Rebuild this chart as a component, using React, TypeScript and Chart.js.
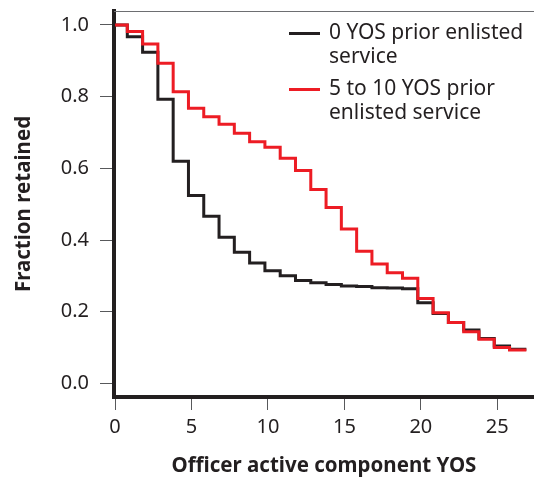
import React, { useEffect, useRef } from "react";
import { Chart, registerables } from "chart.js";

Chart.register(...registerables);

// Step positions (officer active component YOS) where the retention level changes
const stepX = [0, 0.8, 1.8, 2.8, 3.8, 4.8, 5.8, 6.8, 7.8, 8.8, 9.8, 10.8, 11.8, 12.8, 13.8, 14.8, 15.8, 16.8, 17.8, 18.8, 19.8, 20.8, 21.8, 22.8, 23.8, 24.8, 25.8, 26.9];

// 0 YOS prior enlisted service
const zeroPrior = [1.0, 0.967, 0.924, 0.793, 0.62, 0.524, 0.466, 0.408, 0.366, 0.336, 0.314, 0.3, 0.287, 0.281, 0.276, 0.272, 0.27, 0.267, 0.266, 0.264, 0.225, 0.195, 0.17, 0.149, 0.125, 0.104, 0.095, 0.095];

// 5 to 10 YOS prior enlisted service
const fiveToTenPrior = [1.0, 0.982, 0.947, 0.893, 0.814, 0.768, 0.744, 0.723, 0.698, 0.674, 0.659, 0.628, 0.594, 0.541, 0.491, 0.431, 0.369, 0.333, 0.309, 0.293, 0.237, 0.197, 0.17, 0.144, 0.123, 0.1, 0.093, 0.093];

const seriesLabels = [
  ["0 YOS prior enlisted", "service"],
  ["5 to 10 YOS prior", "enlisted service"],
];
const seriesColors = ["#231f20", "#ed1c24"];

const xTickValues = [0, 5, 10, 15, 20, 25];
const yTickValues = [0, 0.2, 0.4, 0.6, 0.8, 1.0];

const xTitle = "Officer active component YOS";
const yTitle = "Fraction retained";

const FONT = "'Noto Sans', 'Open Sans', sans-serif";

export default function App() {
  const ref = useRef<HTMLCanvasElement | null>(null);

  useEffect(() => {
    document.body.style.margin = "0";
    const canvas = ref.current;
    if (!canvas) return;

    const toPoints = (vals: number[]) => stepX.map((x, i) => ({ x, y: vals[i] }));

    const frameAndLegend = {
      id: "frameAndLegend",
      afterDraw(chart: any) {
        const ctx = chart.ctx;
        const area = chart.chartArea;
        ctx.save();
        // thin top frame line
        ctx.strokeStyle = "#6d6e71";
        ctx.lineWidth = 1;
        ctx.beginPath();
        ctx.moveTo(area.left, area.top + 0.5);
        ctx.lineTo(area.right, area.top + 0.5);
        ctx.stroke();

        // legend
        const lineX0 = 289;
        const lineX1 = 320;
        const textX = 329;
        const firstY = 33.5;
        const lineGap = 23.5;
        const itemGap = 56;
        ctx.font = `21px ${FONT}`;
        ctx.textBaseline = "middle";
        ctx.textAlign = "left";
        seriesLabels.forEach((lines, i) => {
          const y = firstY + i * itemGap;
          ctx.strokeStyle = seriesColors[i];
          ctx.lineWidth = 3;
          ctx.beginPath();
          ctx.moveTo(lineX0, y);
          ctx.lineTo(lineX1, y);
          ctx.stroke();
          ctx.fillStyle = "#231f20";
          lines.forEach((t, j) => {
            ctx.fillText(t, textX, y + j * lineGap);
          });
        });
        ctx.restore();
      },
    };

    const chart = new Chart(canvas, {
      type: "line",
      data: {
        datasets: [
          {
            label: seriesLabels[0].join(" "),
            data: toPoints(zeroPrior),
            borderColor: seriesColors[0],
            backgroundColor: seriesColors[0],
            borderWidth: 3,
            stepped: "before",
            pointRadius: 0,
            fill: false,
            order: 1,
          },
          {
            label: seriesLabels[1].join(" "),
            data: toPoints(fiveToTenPrior),
            borderColor: seriesColors[1],
            backgroundColor: seriesColors[1],
            borderWidth: 3,
            stepped: "before",
            pointRadius: 0,
            fill: false,
            order: 0,
          },
        ],
      },
      options: {
        animation: false,
        responsive: false,
        layout: { padding: { top: 11, right: 0, left: 0, bottom: 0 } },
        plugins: {
          legend: { display: false },
          tooltip: { enabled: false },
        },
        scales: {
          x: {
            type: "linear",
            min: -0.07,
            max: 27.4,
            afterBuildTicks: (scale: any) => {
              scale.ticks = xTickValues.map((v) => ({ value: v }));
            },
            afterFit: (scale: any) => {
              scale.height = 81;
              scale.paddingLeft = 0;
              scale.paddingRight = 0;
              scale.paddingTop = 0;
              scale.paddingBottom = 0;
            },
            grid: {
              drawOnChartArea: false,
              drawTicks: true,
              tickLength: 13,
              color: "#58595b",
              lineWidth: 1,
            },
            border: { display: true, color: "#231f20", width: 4 },
            ticks: {
              color: "#231f20",
              font: { family: FONT, size: 20 },
              padding: 5,
              maxRotation: 0,
              callback: (v: any) => String(v),
            },
            title: {
              display: true,
              text: xTitle,
              color: "#231f20",
              font: { family: FONT, size: 20.5, weight: "bold" },
              padding: { top: 0, bottom: 0 },
            },
          },
          y: {
            type: "linear",
            min: -0.038,
            max: 1.039,
            afterBuildTicks: (scale: any) => {
              scale.ticks = yTickValues.map((v) => ({ value: v }));
            },
            afterFit: (scale: any) => {
              scale.width = 114;
              scale.paddingLeft = 0;
              scale.paddingRight = 0;
              scale.paddingTop = 0;
              scale.paddingBottom = 0;
            },
            grid: {
              drawOnChartArea: false,
              drawTicks: true,
              tickLength: 14,
              color: "#58595b",
              lineWidth: 1,
            },
            border: { display: true, color: "#231f20", width: 4 },
            ticks: {
              color: "#231f20",
              font: { family: FONT, size: 20 },
              padding: 11,
              callback: (v: any) => Number(v).toFixed(1),
            },
            title: {
              display: true,
              text: yTitle,
              color: "#231f20",
              font: { family: FONT, size: 20.5, weight: "bold" },
              padding: { top: 12, bottom: 0 },
            },
          },
        },
      },
      plugins: [frameAndLegend],
    } as any);

    return () => chart.destroy();
  }, []);

  return <canvas ref={ref} width={534} height={478} style={{ display: "block", width: 534, height: 478 }} />;
}
